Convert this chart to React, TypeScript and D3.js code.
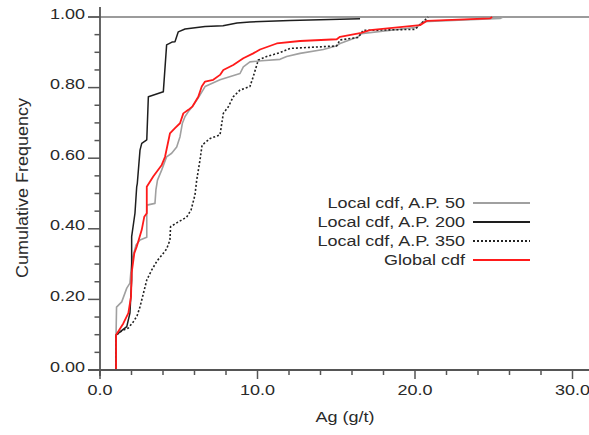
import * as d3 from 'd3';

// Local cdf, A.P. 50 (grey)
const ap50X = [1.02, 1.02, 1.05, 1.38, 1.7, 1.9, 1.97, 2.06, 2.29, 2.54, 2.97, 2.97, 3.49, 3.55, 3.65, 3.92, 4.23, 4.55, 4.87, 5.08, 5.23, 5.4, 5.61, 5.86, 6.24, 6.67, 7.62, 8.89, 9.1, 9.52, 10.27, 11.43, 11.85, 12.7, 14.18, 14.98, 15.24, 16.4, 16.6, 20.11, 20.51, 25.4, 25.59];
const ap50Y = [0, 0.099, 0.178, 0.193, 0.232, 0.246, 0.283, 0.317, 0.354, 0.368, 0.376, 0.467, 0.472, 0.51, 0.538, 0.567, 0.604, 0.614, 0.632, 0.661, 0.699, 0.718, 0.732, 0.746, 0.771, 0.803, 0.822, 0.84, 0.859, 0.873, 0.876, 0.88, 0.888, 0.897, 0.908, 0.918, 0.925, 0.944, 0.953, 0.971, 0.987, 0.996, 1.0];

// Local cdf, A.P. 200 (black)
const ap200X = [1.02, 1.02, 1.33, 1.7, 1.9, 2.01, 2.01, 2.22, 2.33, 2.37, 2.54, 2.65, 2.97, 3.07, 4.02, 4.23, 4.57, 4.76, 4.97, 5.4, 6.67, 7.81, 8.7, 9.52, 12.06, 16.51];
const ap200Y = [0, 0.099, 0.11, 0.123, 0.161, 0.255, 0.378, 0.444, 0.519, 0.529, 0.623, 0.642, 0.652, 0.774, 0.788, 0.921, 0.929, 0.93, 0.958, 0.966, 0.973, 0.975, 0.983, 0.986, 0.99, 0.995];

// Local cdf, A.P. 350 (dotted)
const ap350X = [1.02, 1.02, 1.46, 1.8, 2.12, 2.35, 2.54, 2.97, 3.28, 3.62, 3.94, 4.23, 4.44, 4.48, 4.95, 5.5, 5.78, 6.03, 6.14, 6.35, 6.48, 7.0, 7.62, 7.83, 8.15, 8.46, 8.89, 9.52, 9.73, 10.05, 10.58, 11.43, 12.06, 14.18, 15.03, 15.24, 16.4, 16.7, 20.0, 20.53, 20.76, 20.83];
const ap350Y = [0, 0.099, 0.113, 0.119, 0.137, 0.153, 0.179, 0.255, 0.283, 0.309, 0.326, 0.343, 0.368, 0.406, 0.419, 0.433, 0.453, 0.496, 0.538, 0.595, 0.637, 0.656, 0.666, 0.727, 0.746, 0.774, 0.793, 0.803, 0.831, 0.878, 0.888, 0.899, 0.911, 0.916, 0.918, 0.935, 0.942, 0.962, 0.965, 0.987, 0.997, 1.0];

// Global cdf (red)
const globalX = [1.02, 1.02, 1.48, 1.8, 1.97, 2.01, 2.18, 2.33, 2.65, 2.81, 2.97, 2.97, 3.38, 3.92, 4.13, 4.44, 4.76, 5.08, 5.29, 5.61, 5.86, 6.24, 6.46, 6.67, 7.19, 7.62, 7.83, 8.46, 9.1, 9.73, 10.16, 11.22, 12.7, 15.03, 15.24, 16.51, 17.14, 20.32, 20.74, 24.76, 24.9];
const globalY = [0, 0.099, 0.132, 0.161, 0.208, 0.275, 0.331, 0.349, 0.397, 0.434, 0.444, 0.519, 0.548, 0.581, 0.604, 0.67, 0.685, 0.699, 0.727, 0.737, 0.746, 0.774, 0.803, 0.817, 0.822, 0.836, 0.85, 0.864, 0.883, 0.897, 0.908, 0.925, 0.932, 0.937, 0.944, 0.954, 0.963, 0.977, 0.989, 0.996, 1.0];

const xMajor = [0, 10, 20, 30];
const xTickLabels = ['0.0', '10.0', '20.0', '30.0'];
const yMajor = [0, 0.2, 0.4, 0.6, 0.8, 1.0];
const yTickLabels = ['0.00', '0.20', '0.40', '0.60', '0.80', '1.00'];
const legendLabels = ['Local cdf, A.P. 50', 'Local cdf, A.P. 200', 'Local cdf, A.P. 350', 'Global cdf'];

const W = 589;
const H = 435;
const FONT = 'Liberation Sans, Arial, Helvetica, sans-serif';

const x = d3.scaleLinear().domain([0, 30]).range([100, 572.5]);
const y = d3.scaleLinear().domain([0, 1]).range([370, 17]);

const line = d3.line<[number, number]>()
  .x(d => x(d[0]))
  .y(d => y(d[1]));

const zip = (xs: number[], ys: number[]) => xs.map((v, i) => [v, ys[i]] as [number, number]);

const series = [
  { label: legendLabels[0], pts: zip(ap50X, ap50Y), color: '#a0a0a0', width: 1.6, dash: null },
  { label: legendLabels[1], pts: zip(ap200X, ap200Y), color: '#1e1e1e', width: 1.5, dash: null },
  { label: legendLabels[2], pts: zip(ap350X, ap350Y), color: '#222', width: 1.6, dash: '2,2' },
  { label: legendLabels[3], pts: zip(globalX, globalY), color: '#ff1a1a', width: 1.8, dash: null },
];

// stretched text, the source picture is wider than tall
const SText = ({ tx, ty, anchor = 'middle', children }: any) => (
  <text
    transform={`translate(${tx},${ty}) scale(1.2,1)`}
    textAnchor={anchor}
    fontSize={15}
    fontFamily={FONT}
    fill="#2a2a2a"
  >
    {children}
  </text>
);

export default function App() {
  const xMinor = d3.range(0, 31, 2).filter(v => !xMajor.includes(v));
  const yMinor = d3.range(0, 1.001, 0.05).filter(v => !yMajor.some(m => Math.abs(m - v) < 1e-6));
  const axisColor = '#555';

  return (
    <svg
      width={W}
      height={H}
      style={{ position: 'absolute', left: 0, top: 0, background: '#fff' }}
    >
      {/* 1.00 reference line */}
      <line x1={88} x2={W} y1={y(1)} y2={y(1)} stroke="#7a7a7a" strokeWidth={1.6} />

      {/* curves */}
      {series.map(s => (
        <path
          key={s.label}
          d={line(s.pts) || ''}
          fill="none"
          stroke={s.color}
          strokeWidth={s.width}
          strokeDasharray={s.dash || undefined}
          strokeLinejoin="round"
        />
      ))}

      {/* y axis */}
      <line x1={100} x2={100} y1={7} y2={376} stroke={axisColor} strokeWidth={1.8} />
      {yMajor.map((v, i) => (
        <g key={'ym' + v}>
          <line x1={88} x2={100} y1={y(v)} y2={y(v)} stroke={axisColor} strokeWidth={1.5} />
          <SText tx={85} ty={y(v) + 1.5} anchor="end">{yTickLabels[i]}</SText>
        </g>
      ))}
      {yMinor.map(v => (
        <line key={'yn' + v} x1={94.5} x2={100} y1={y(v)} y2={y(v)} stroke={axisColor} strokeWidth={1.5} />
      ))}

      {/* x axis */}
      <line x1={88} x2={W} y1={370} y2={370} stroke={axisColor} strokeWidth={1.8} />
      {xMajor.map((v, i) => (
        <g key={'xm' + v}>
          <line x1={x(v)} x2={x(v)} y1={370} y2={379} stroke={axisColor} strokeWidth={1.5} />
          <SText tx={x(v)} ty={395}>{xTickLabels[i]}</SText>
        </g>
      ))}
      {xMinor.map(v => (
        <line key={'xn' + v} x1={x(v)} x2={x(v)} y1={370} y2={375} stroke={axisColor} strokeWidth={1.5} />
      ))}

      {/* axis titles */}
      <SText tx={345} ty={422}>Ag (g/t)</SText>
      <text
        transform="translate(28,188) rotate(-90) scale(1.2,1.1)"
        textAnchor="middle"
        fontSize={15}
        fontFamily={FONT}
        fill="#2a2a2a"
      >
        Cumulative Frequency
      </text>

      {/* legend */}
      {series.map((s, i) => {
        const ly = 203 + i * 19;
        return (
          <g key={'lg' + i}>
            <SText tx={465} ty={ly + 5} anchor="end">{s.label}</SText>
            <line
              x1={473}
              x2={530}
              y1={ly}
              y2={ly}
              stroke={s.color}
              strokeWidth={s.width + 0.4}
              strokeDasharray={s.dash || undefined}
            />
          </g>
        );
      })}
    </svg>
  );
}
